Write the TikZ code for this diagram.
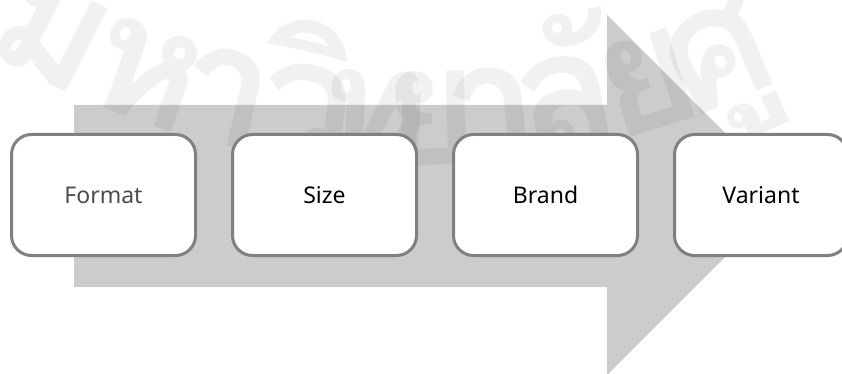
\documentclass[tikz,border=0pt]{standalone}
\usepackage{fontspec}
\setmainfont{Noto Sans}
\newfontfamily\thaifont[Script=Thai]{Loma}
\usetikzlibrary{positioning}
\definecolor{arrowgray}{RGB}{204,204,204}
\definecolor{framegray}{RGB}{128,128,128}
\tikzset{
  stepbox/.style={draw=framegray,line width=3pt,fill=white,rounded corners=20pt,
    minimum width=184pt,minimum height=121pt,inner sep=0pt,
    font=\fontsize{23}{27}\selectfont},
  wmglyph/.style={text=black,text opacity=0.055,inner sep=0pt,anchor=base,
    font=\thaifont\bfseries\fontsize{168}{178}\selectfont},
}

\begin{document}
\begin{tikzpicture}[x=1pt,y=-1pt]
  \useasboundingbox (0,0) rectangle (842,374);
  % big arrow behind the steps
  \fill[arrowgray] (74,105) -- (607,105) -- (607,15) -- (787,195)
    -- (607,375) -- (607,287) -- (74,287) -- cycle;
  % watermark letters on an arc
  \coordinate (wmc) at (410,-670);
  \foreach \g/\a [count=\i] in {ม/-117,ห/-109.5,า/-103.5,วิ/-97.5,ท/-92.5,
      ย/-88.5,า/-84,ลั/-78.5,ย/-72.5,ศู/-67}
    \node[wmglyph,rotate=\a+90] (wm\i) at ([shift={(\a:836pt)}]wmc) {\g};
  % the four steps
  \node[stepbox] (format) at (103.5,195) {\color{black!70}Format};
  \node[stepbox,right=34pt of format] (size) {Size};
  \node[stepbox,right=34pt of size] (brand) {Brand};
  \node[stepbox,right=34pt of brand,minimum width=173pt] (variant) {Variant};
\end{tikzpicture}
\end{document}
